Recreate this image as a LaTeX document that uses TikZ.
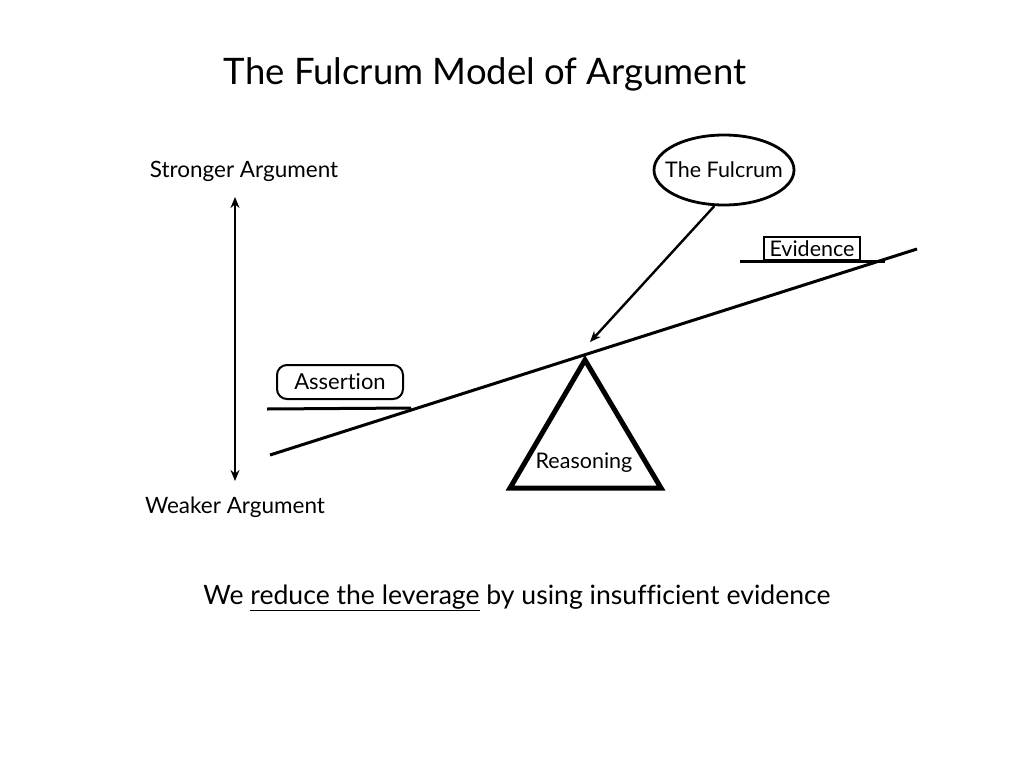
\documentclass[tikz,border=0pt]{standalone}
\usepackage{fontspec}
\setmainfont{Lato}[Ligatures=NoCommon]
\usetikzlibrary{shapes.geometric,arrows.meta}
\begin{document}
\begin{tikzpicture}[x=1pt,y=-1pt,
  lbl/.style={font=\fontsize{22.5}{26}\selectfont, inner sep=0pt},
  thick3/.style={line width=3pt},
  arr/.style={line width=2.4pt,-{Stealth[length=11pt,width=9pt]}}]
\useasboundingbox (0,0) rectangle (1024,768);
\node[inner sep=0pt,font=\fontsize{36.5}{42}\selectfont] (title) at (485,74) {The Fulcrum Model of Argument};
\node[lbl] (strong) at (244,171) {Stronger Argument};
\node[lbl] (weak) at (235,507) {Weaker Argument};
\coordinate (vtop) at (235,197);
\coordinate (vbot) at (235,481);
\draw[line width=2.4pt,{Stealth[length=11pt,width=9pt]}-{Stealth[length=11pt,width=9pt]}] (vtop) -- (vbot);
% beam
\coordinate (b1) at (270,455);
\coordinate (b2) at (917,249);
\draw[thick3] (b1) -- (b2);
% triangle
\coordinate (t1) at (585,360);
\coordinate (t2) at (510,488);
\coordinate (t3) at (661,488);
\draw[line width=5pt,line join=miter] (t1) -- (t2) -- (t3) -- cycle;
\node[lbl,font=\fontsize{21.5}{24}\selectfont] (reason) at (584,463) {Reasoning};
% fulcrum
\node[draw,ellipse,line width=2.8pt,minimum width=140pt,minimum height=70pt,inner xsep=-14pt,inner ysep=0pt,font=\fontsize{21.5}{24}\selectfont] (fulcrum) at (724,170) {The Fulcrum};
\coordinate (ftip) at (590,342);
\draw[arr] (fulcrum.-105) -- (ftip);
% evidence
\node[draw,line width=2pt,inner sep=1.5pt,minimum width=96pt,minimum height=23pt,font=\fontsize{21.5}{24}\selectfont] (evid) at (812,248.5) {Evidence};
\coordinate (e1) at (740,261);
\coordinate (e2) at (885,261);
\draw[thick3] (e1) -- (e2);
% assertion
\node[draw,rounded corners=10pt,line width=2pt,minimum width=126pt,minimum height=34pt,inner sep=0pt,font=\fontsize{22}{24}\selectfont] (assert) at (340,382) {Assertion};
\coordinate (a1) at (267,409);
\coordinate (a2) at (411,408);
\draw[thick3] (a1) -- (a2);
% bottom
\node[inner sep=0pt,font=\fontsize{26.6}{30}\selectfont] (bottom) at (517,598) {We \underline{reduce the leverage} by using insufficient evidence};
\end{tikzpicture}
\end{document}
